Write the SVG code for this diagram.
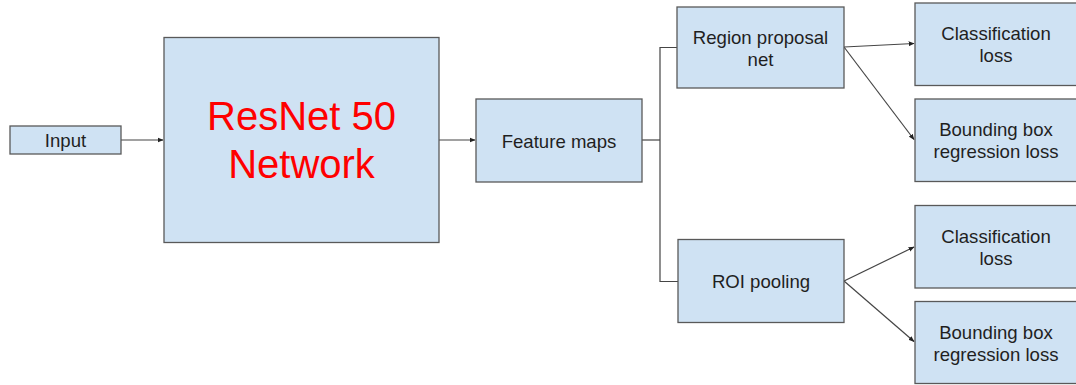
<svg xmlns="http://www.w3.org/2000/svg" width="1076" height="385" viewBox="0 0 1076 385">
  <defs>
    <style>
      .box { fill: #cfe2f3; stroke: #595959; stroke-width: 1.3; }
      .lbl { font-family: "Liberation Sans", Arial, sans-serif; font-size: 18.6px; fill: #1f1f1f; text-anchor: middle; }
      .big { font-family: "Liberation Sans", Arial, sans-serif; font-size: 40px; fill: #ff0000; text-anchor: middle; }
      .wire { fill: none; stroke: #454545; stroke-width: 1.2; }
    </style>
    <marker id="arrow" viewBox="0 0 10 10" refX="9" refY="5" markerWidth="6" markerHeight="6" orient="auto" markerUnits="userSpaceOnUse">
      <path d="M0,1 L10,5 L0,9 z" fill="#222"/>
    </marker>
  </defs>
  <rect width="1076" height="385" fill="#ffffff"/>

  <g id="connectors">
    <line class="wire" x1="121" y1="140" x2="163" y2="140" marker-end="url(#arrow)"/>
    <line class="wire" x1="439" y1="140" x2="475" y2="140" marker-end="url(#arrow)"/>
    <polyline class="wire" points="642,140 660,140"/>
    <polyline class="wire" points="677,47.5 660,47.5 660,281.5 678,281.5"/>
    <line class="wire" x1="844" y1="47" x2="914" y2="43.5" marker-end="url(#arrow)"/>
    <line class="wire" x1="844" y1="47" x2="914" y2="139.5" marker-end="url(#arrow)"/>
    <line class="wire" x1="844" y1="281" x2="914" y2="247" marker-end="url(#arrow)"/>
    <line class="wire" x1="844" y1="281" x2="914" y2="341.5" marker-end="url(#arrow)"/>
  </g>

  <g id="input">
    <rect class="box" x="10" y="126" width="111" height="28"/>
    <text class="lbl" x="65.5" y="147">Input</text>
  </g>

  <g id="resnet">
    <rect class="box" x="164" y="37.5" width="275" height="205"/>
    <text class="big" x="301.5" y="130">ResNet 50</text>
    <text class="big" x="301.5" y="178">Network</text>
  </g>

  <g id="feature-maps">
    <rect class="box" x="476" y="99" width="166" height="83"/>
    <text class="lbl" x="559" y="147.5">Feature maps</text>
  </g>

  <g id="region-proposal">
    <rect class="box" x="677" y="7" width="167" height="81"/>
    <text class="lbl" x="760.5" y="44">Region proposal</text>
    <text class="lbl" x="760.5" y="66">net</text>
  </g>

  <g id="roi-pooling">
    <rect class="box" x="678" y="239.5" width="166" height="83"/>
    <text class="lbl" x="761" y="288">ROI pooling</text>
  </g>

  <g id="cls-loss-rpn">
    <rect class="box" x="915" y="3" width="170" height="82.5"/>
    <text class="lbl" x="996" y="40">Classification</text>
    <text class="lbl" x="996" y="62">loss</text>
  </g>

  <g id="bbox-loss-rpn">
    <rect class="box" x="915" y="99" width="170" height="82.5"/>
    <text class="lbl" x="996" y="136">Bounding box</text>
    <text class="lbl" x="996" y="158">regression loss</text>
  </g>

  <g id="cls-loss-roi">
    <rect class="box" x="915" y="205.5" width="170" height="82.5"/>
    <text class="lbl" x="996" y="243">Classification</text>
    <text class="lbl" x="996" y="265">loss</text>
  </g>

  <g id="bbox-loss-roi">
    <rect class="box" x="915" y="301.5" width="170" height="82"/>
    <text class="lbl" x="996" y="339">Bounding box</text>
    <text class="lbl" x="996" y="361">regression loss</text>
  </g>
</svg>
